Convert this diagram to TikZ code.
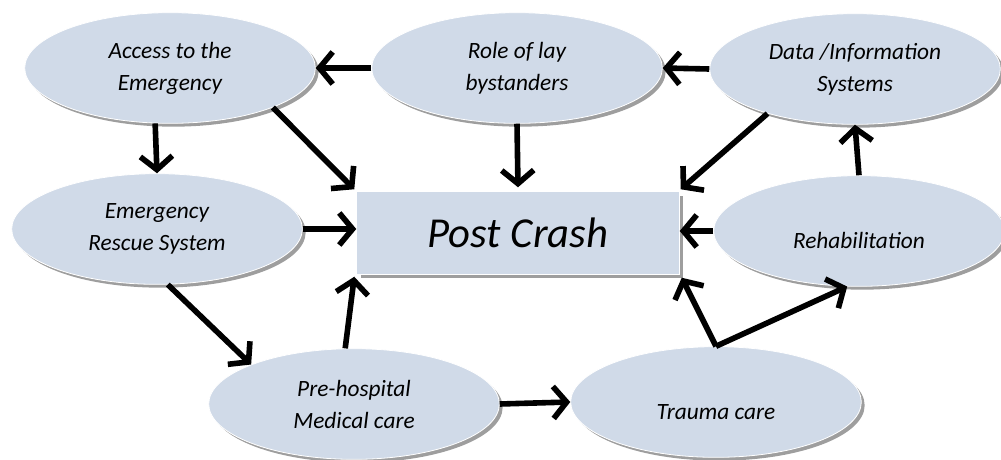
\documentclass[tikz,border=0pt]{standalone}
\usepackage{fontspec}
\setmainfont{Carlito}
\usetikzlibrary{shapes.geometric,shadows,arrows.meta}
\definecolor{bubble}{HTML}{D0DAE8}

\begin{document}
\begin{tikzpicture}[x=0.75pt,y=-0.75pt]
\tikzset{topic/.style={ellipse, fill=bubble, draw=white, line width=0.6pt,
                       minimum width=218pt, minimum height=83pt, inner sep=0pt,
                       align=center, font=\fontsize{17.5}{24}\selectfont\itshape,
                       drop shadow={shadow xshift=2.5pt, shadow yshift=-2.5pt, fill=black!38, opacity=1}},
         low/.style={text height=26pt, text depth=0pt},
         hub/.style={rectangle, fill=bubble, draw=white, line width=0.6pt,
                     minimum width=242pt, minimum height=62pt, inner sep=0pt,
                     font=\fontsize{32}{38}\selectfont\itshape,
                     drop shadow={shadow xshift=3pt, shadow yshift=-3pt, fill=black!38, opacity=1}},
         link/.style={line width=4.2pt, -{Straight Barb[length=10pt,width=24pt]}}}
\useasboundingbox (0,0) rectangle (1001,460);

\node[topic] (acc)    at (170,68)  {Access to the\\Emergency};
\node[topic] (role)   at (517,68)  {Role of lay\\bystanders};
\node[topic] (data)   at (855,69)  {Data /Information\\Systems};
\node[topic] (rescue) at (157,229) {Emergency\\Rescue System};
\node[topic,low] (rehab)  at (859,231) {Rehabilitation};
\node[topic] (pre)    at (354,404) {Pre-hospital\\Medical care};
\node[topic,low] (trauma) at (716,402) {Trauma care};
\node[hub]   (post)   at (518,233) {Post Crash};

% top row
\draw[link] (role.west) -- (acc.east);
\draw[link] (data.west) -- (role.east);
\draw[link] (acc.-105) -- (rescue.north);
\draw[link] (acc.-21) -- ([shift={(-2,-2)}]post.north west);
\draw[link] (role.south) -- ([yshift=3pt]post.north);
\draw[link] (data.-153) -- ([shift={(1,-2)}]post.north east);
% middle row
\draw[link] (rescue.east) -- (rescue.east -| post.west);
\draw[link] (rehab.west) -- (rehab.west -| post.east);
\draw[link] (rehab.north) -- (data.south);
% bottom row
\draw[link] (rescue.-79) -- (pre.159);
\draw[link] (pre.99) -- ([shift={(-2,2)}]post.south west);
\draw[link] (pre.east) -- (trauma.west);
\draw[link] (trauma.north) -- ([shift={(2,3)}]post.south east);
\draw[link] (trauma.north) -- (rehab.-102);
\end{tikzpicture}
\end{document}
